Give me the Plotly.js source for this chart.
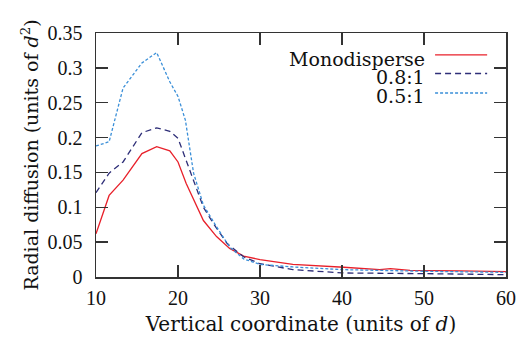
<!DOCTYPE html>
<html>
<head>
<meta charset="utf-8">
<script src="https://cdn.plot.ly/plotly-3.0.1.min.js"></script>
<style>
  html, body { margin: 0; padding: 0; background: #fff; }
  #chart { width: 521px; height: 337px; }
</style>
</head>
<body>
<div id="chart"></div>
<script>
// Radial diffusion profiles along the vertical coordinate
const seriesNames = ["Monodisperse", "0.8:1", "0.5:1"];

const monoX = [10, 11.6, 13.3, 15.6, 17.4, 19, 20, 21, 23.1, 24.7, 26.3, 28, 30, 34, 40.2, 44.6, 45.9, 48.3, 54.4, 60];
const monoY = [0.062, 0.117, 0.139, 0.177, 0.187, 0.181, 0.165, 0.134, 0.081, 0.058, 0.041, 0.030, 0.025, 0.018, 0.014, 0.0106, 0.012, 0.0096, 0.0087, 0.0077];

const r08X = [10, 11.6, 13.3, 15.6, 17.4, 19, 20, 21.9, 23.1, 24.3, 26, 28, 30, 34, 40, 50, 60];
const r08Y = [0.121, 0.149, 0.165, 0.207, 0.214, 0.209, 0.199, 0.139, 0.100, 0.077, 0.048, 0.029, 0.019, 0.0106, 0.0058, 0.0048, 0.0034];

const r05X = [10, 11.6, 13.3, 15.6, 17.4, 19, 20, 20.9, 21.9, 23.1, 24.7, 26.3, 28, 30, 34, 40, 50, 60];
const r05Y = [0.188, 0.194, 0.271, 0.307, 0.322, 0.280, 0.259, 0.225, 0.149, 0.103, 0.072, 0.043, 0.026, 0.018, 0.0144, 0.0106, 0.0082, 0.0067];

const xTicks = [10, 20, 30, 40, 50, 60];
const yTicks = [0, 0.05, 0.1, 0.15, 0.2, 0.25, 0.3, 0.35];

const colors = ["#e8202a", "#2e2e78", "#3a8fd8"];
const dashes = ["solid", "6px,4px", "3px,2px"];

const traces = [
  {x: monoX, y: monoY, name: seriesNames[0]},
  {x: r08X, y: r08Y, name: seriesNames[1]},
  {x: r05X, y: r05Y, name: seriesNames[2]}
].map((t, i) => Object.assign(t, {
  type: "scatter", mode: "lines", showlegend: false,
  line: {color: colors[i], width: 1.3, dash: dashes[i]}
}));

const tickFont = {family: "Liberation Serif, serif", size: 20, color: "#111"};
const textFont = {family: "DejaVu Serif, Liberation Serif, serif", size: 19, color: "#111"};

// Key: label on the left, line sample on the right
const keyTextY = [0.893, 0.818, 0.740];
const keyLineY = [0.910, 0.834, 0.754];
const annotations = seriesNames.map((n, i) => ({
  xref: "paper", yref: "paper", x: 0.802, y: keyTextY[i],
  xanchor: "right", yanchor: "middle", text: n, showarrow: false,
  borderpad: 0, borderwidth: 0, font: textFont
}));
const shapes = seriesNames.map((n, i) => ({
  type: "line", xref: "paper", yref: "paper",
  x0: 0.827, x1: 0.954, y0: keyLineY[i], y1: keyLineY[i],
  line: {color: colors[i], width: 1.3, dash: dashes[i]}
}));

const axisCommon = {
  showgrid: false, zeroline: false, showline: true, mirror: "ticks",
  linecolor: "#333", linewidth: 1.5, ticks: "inside", ticklen: 12,
  tickwidth: 1.5, tickcolor: "#333", tickfont: tickFont
};

const layout = {
  width: 521, height: 337,
  margin: {l: 96, r: 15, t: 33, b: 60},
  paper_bgcolor: "#fff", plot_bgcolor: "#fff",
  font: textFont,
  xaxis: Object.assign({}, axisCommon, {
    range: [10, 60], tickvals: xTicks, ticklabelstandoff: 2,
    title: {text: "Vertical coordinate (units of <i>d</i>)",
            font: Object.assign({}, textFont, {size: 20}), standoff: 9}
  }),
  yaxis: Object.assign({}, axisCommon, {
    range: [0, 0.35], tickvals: yTicks, ticklabelstandoff: 8,
    title: {text: "Radial diffusion (units of <i>d</i><sup>2</sup>)", font: textFont, standoff: 4}
  }),
  annotations: annotations,
  shapes: shapes
};

Plotly.newPlot("chart", traces, layout, {staticPlot: true, displayModeBar: false});
</script>
</body>
</html>
